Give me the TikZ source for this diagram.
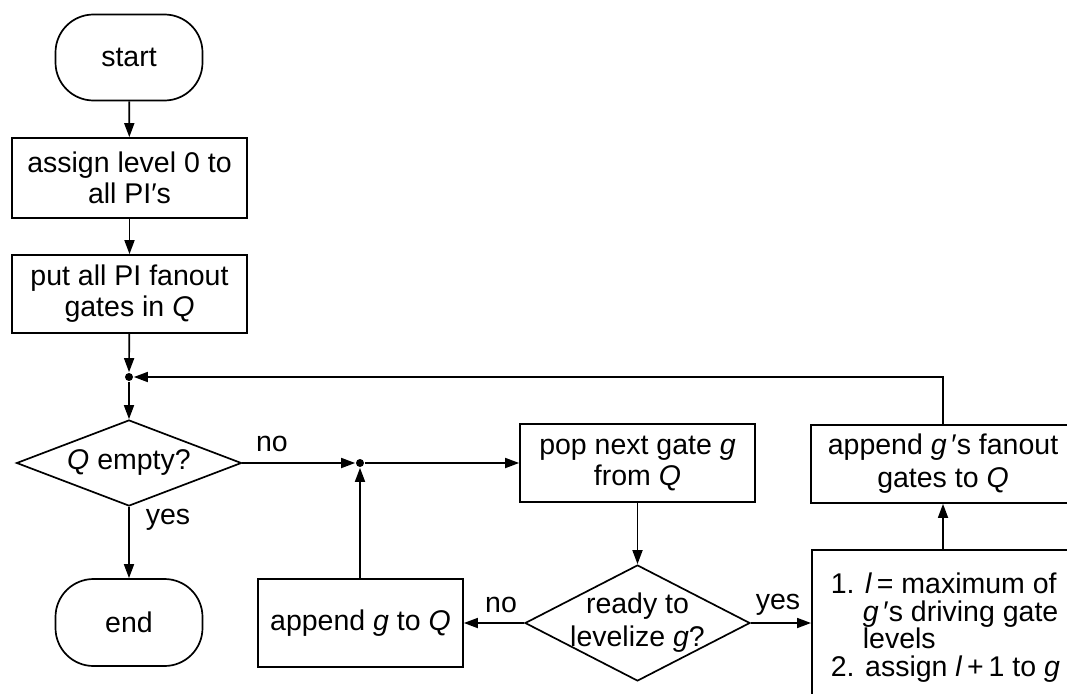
\documentclass[tikz,border=0pt]{standalone}
\usepackage{fontspec}
\setmainfont{Liberation Sans}
\usetikzlibrary{shapes.geometric,arrows.meta}
\begin{document}
\begin{tikzpicture}[x=1pt,y=-1pt,line width=1.7pt,
  every node/.style={font=\fontsize{28.5}{31}\selectfont, inner sep=0pt},
  term/.style={draw, rounded corners=38pt, minimum width=147pt, minimum height=86pt},
  proc/.style={draw, align=center},
  dec/.style={draw, diamond},
  arr/.style={-{Triangle[length=14pt,width=10pt]}},
  jdot/.style={fill, circle, minimum size=8pt}]
\clip (0,0) rectangle (1067,693);
\fill[white] (0,0) rectangle (1067,693);

\node[term] (start) at (129,57.5) {start};
\node[proc, minimum width=235pt, minimum height=80pt] (assign) at (129.5,178) {assign level 0 to\\all PI′s};
\node[proc, minimum width=235pt, minimum height=78pt] (putall) at (129.5,294) {put all PI fanout\\gates in \textit{Q}};
\node[jdot] (j1) at (129,377) {};
\node[dec, minimum width=225pt, minimum height=86pt, label={center:{\textit{Q} empty?}}] (qempty) at (129,463) {};
\node[term, minimum height=87pt] (end) at (129,622.5) {end};
\node[jdot] (j2) at (360,463) {};
\node[proc, minimum width=205pt, minimum height=88pt] (appendQ) at (360.5,623) {append \textit{g} to \textit{Q}};
\node[proc, minimum width=235pt, minimum height=78pt] (pop) at (637.5,463) {pop next gate \textit{g}\\from \textit{Q}};
\node[dec, minimum width=225pt, minimum height=116pt,
  label={[align=center, font=\fontsize{28.5}{33}\selectfont]center:{ready to\\levelize \textit{g}?}}] (ready) at (637.5,623) {};
\node[proc, minimum width=264pt, minimum height=78pt, font=\fontsize{28.5}{33}\selectfont] (fanout) at (943,464) {append \textit{g}\,′s fanout\\gates to \textit{Q}};
\node[draw, minimum width=280pt, minimum height=200pt, anchor=north west] (calc) at (811,549) {};
\node[anchor=north west, align=left, font=\fontsize{28.5}{27.5}\selectfont] (calctext) at ([xshift=19pt,yshift=-23pt]calc.north west)
  {1. \textit{l}\,= maximum of\\
   \makebox[32pt][l]{}\textit{g}\,′s driving gate\\
   \makebox[32pt][l]{}levels\\
   2. assign \textit{l}\,+\,1 to \textit{g}};

\node (lno1) at (272,444) {no};
\node (lyes1) at (168,520) {yes};
\node (lno2) at (501,605) {no};
\node (lyes2) at (778,605) {yes};

\draw[arr] (start) -- (assign);
\draw[arr] (assign) -- (putall);
\draw[arr] (putall) -- (j1);
\draw[arr] (j1) -- (qempty);
\draw[arr] (qempty.east) -- (j2);
\draw[arr] (j2) -- (pop.west);
\draw[arr] (qempty.south) -- (end);
\draw[arr] (appendQ.north -| j2) -- (j2);
\draw[arr] (pop) -- (ready.north);
\draw[arr] (ready.west) -- (appendQ.east);
\draw[arr] (ready.east) -- (ready.east -| calc.west);
\draw[arr] (fanout.south |- calc.north) -- (fanout.south);
\draw[arr] (fanout.north) |- (j1);
\end{tikzpicture}
\end{document}
